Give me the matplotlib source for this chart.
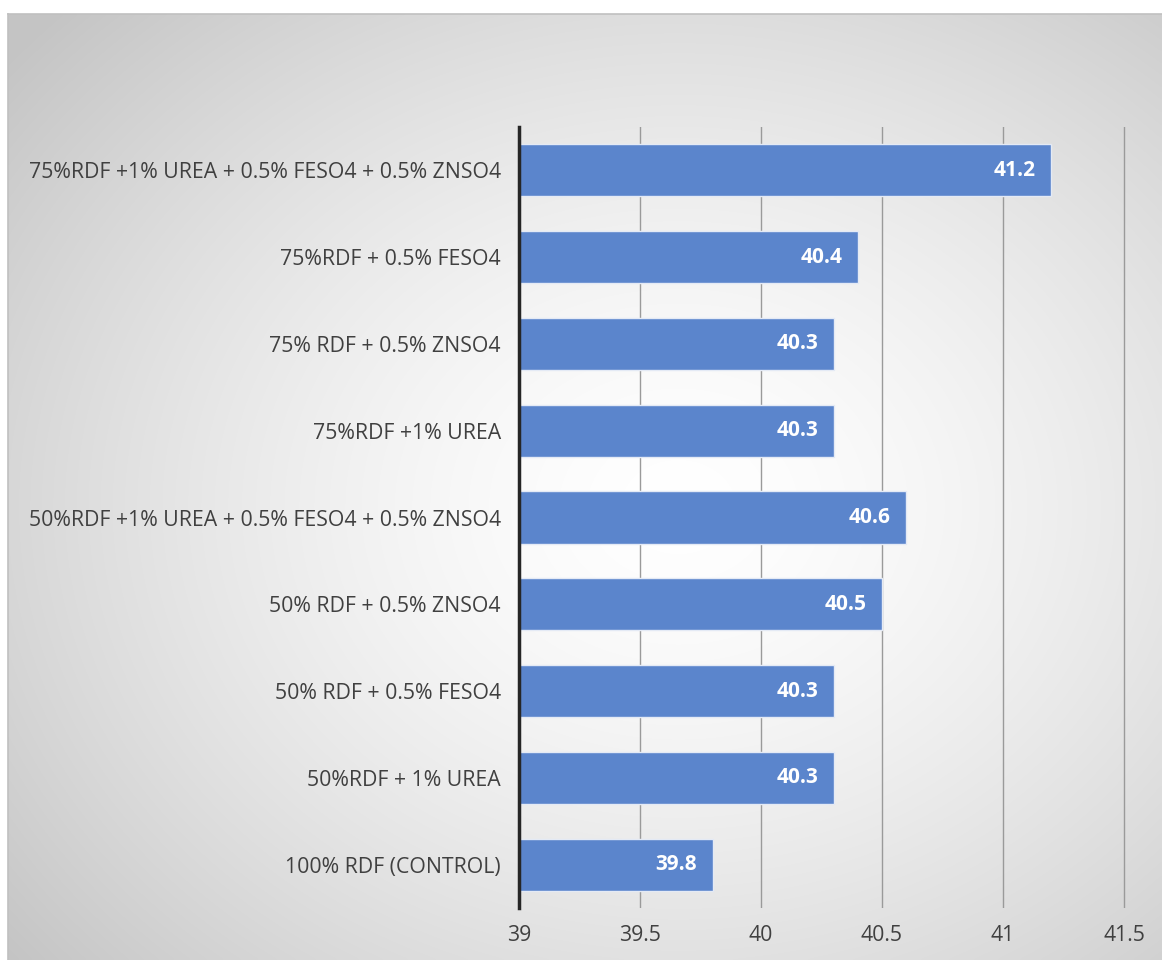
import numpy as np
import matplotlib
matplotlib.use("Agg")
import matplotlib.pyplot as plt

categories = [
    "100% RDF (CONTROL)",
    "50%RDF + 1% UREA",
    "50% RDF + 0.5% FESO4",
    "50% RDF + 0.5% ZNSO4",
    "50%RDF +1% UREA + 0.5% FESO4 + 0.5% ZNSO4",
    "75%RDF +1% UREA",
    "75% RDF + 0.5% ZNSO4",
    "75%RDF + 0.5% FESO4",
    "75%RDF +1% UREA + 0.5% FESO4 + 0.5% ZNSO4",
]
values = [39.8, 40.3, 40.3, 40.5, 40.6, 40.3, 40.3, 40.4, 41.2]
x_ticks = [39, 39.5, 40, 40.5, 41, 41.5]
x_tick_labels = ["39", "39.5", "40", "40.5", "41", "41.5"]

plt.rcParams["font.family"] = ["Open Sans", "DejaVu Sans"]

W, H = 1162, 960
fig = plt.figure(figsize=(W / 100, H / 100), dpi=100)
fig.patch.set_facecolor("white")

# Chart frame with radial gradient fill
fx0, fy0 = 8 / W, 0.0
fw, fh = 1 - fx0, 1 - 14 / H - fy0
bg = fig.add_axes([fx0, fy0, fw, fh])
ny, nx = 400, 480
yy, xx = np.mgrid[0:ny, 0:nx]
cx, cy = nx * 0.58, ny * 0.52
r = np.sqrt(((xx - cx) / nx) ** 2 + ((yy - cy) / ny) ** 2) / 0.75
r = np.clip(r, 0, 1)
shade = 1.0 - 0.23 * r ** 1.5
img = np.dstack([shade, shade, shade])
bg.imshow(img, aspect="auto", extent=[0, 1, 0, 1], interpolation="bicubic")
bg.set_xlim(0, 1)
bg.set_ylim(0, 1)
bg.set_xticks([])
bg.set_yticks([])
for side in ["right", "bottom"]:
    bg.spines[side].set_visible(False)
for side in ["left", "top"]:
    bg.spines[side].set_color("#c0c0c0")
    bg.spines[side].set_linewidth(1.2)

# Plot area
px0, px1 = 519, 1126
py0, py1 = 127, 908
ax = fig.add_axes([px0 / W, 1 - py1 / H, (px1 - px0) / W, (py1 - py0) / H])
ax.patch.set_alpha(0)
y = np.arange(len(categories))
ax.barh(y, values, left=0, height=0.6, color="#5b85cc", edgecolor="#e4eaf5",
        linewidth=1.0, zorder=3)
ax.set_xlim(39, 41.5 + 2.5 * 2 / 605)
ax.set_ylim(-0.5, len(categories) - 0.5)
ax.set_xticks(x_ticks)
ax.set_xticklabels(x_tick_labels)
ax.set_yticks(y)
ax.set_yticklabels(categories)
ax.tick_params(axis="both", length=0, labelsize=15.3, colors="#404040")
ax.tick_params(axis="x", pad=12)
ax.tick_params(axis="y", pad=13)
ax.grid(axis="x", color="#9a9a9a", linewidth=1.0, zorder=1)
ax.set_axisbelow(True)
for side in ["top", "right", "bottom"]:
    ax.spines[side].set_visible(False)
ax.spines["left"].set_color("#262626")
ax.spines["left"].set_linewidth(2.5)
ax.spines["left"].set_zorder(4)

for yi, v in zip(y, values):
    ax.annotate(f"{v:.1f}", xy=(v, yi), xytext=(-11, 0), textcoords="offset points",
                ha="right", va="center", color="white", fontsize=15,
                fontweight="bold", zorder=5)

fig.savefig("out.png", dpi=100, facecolor="white")
